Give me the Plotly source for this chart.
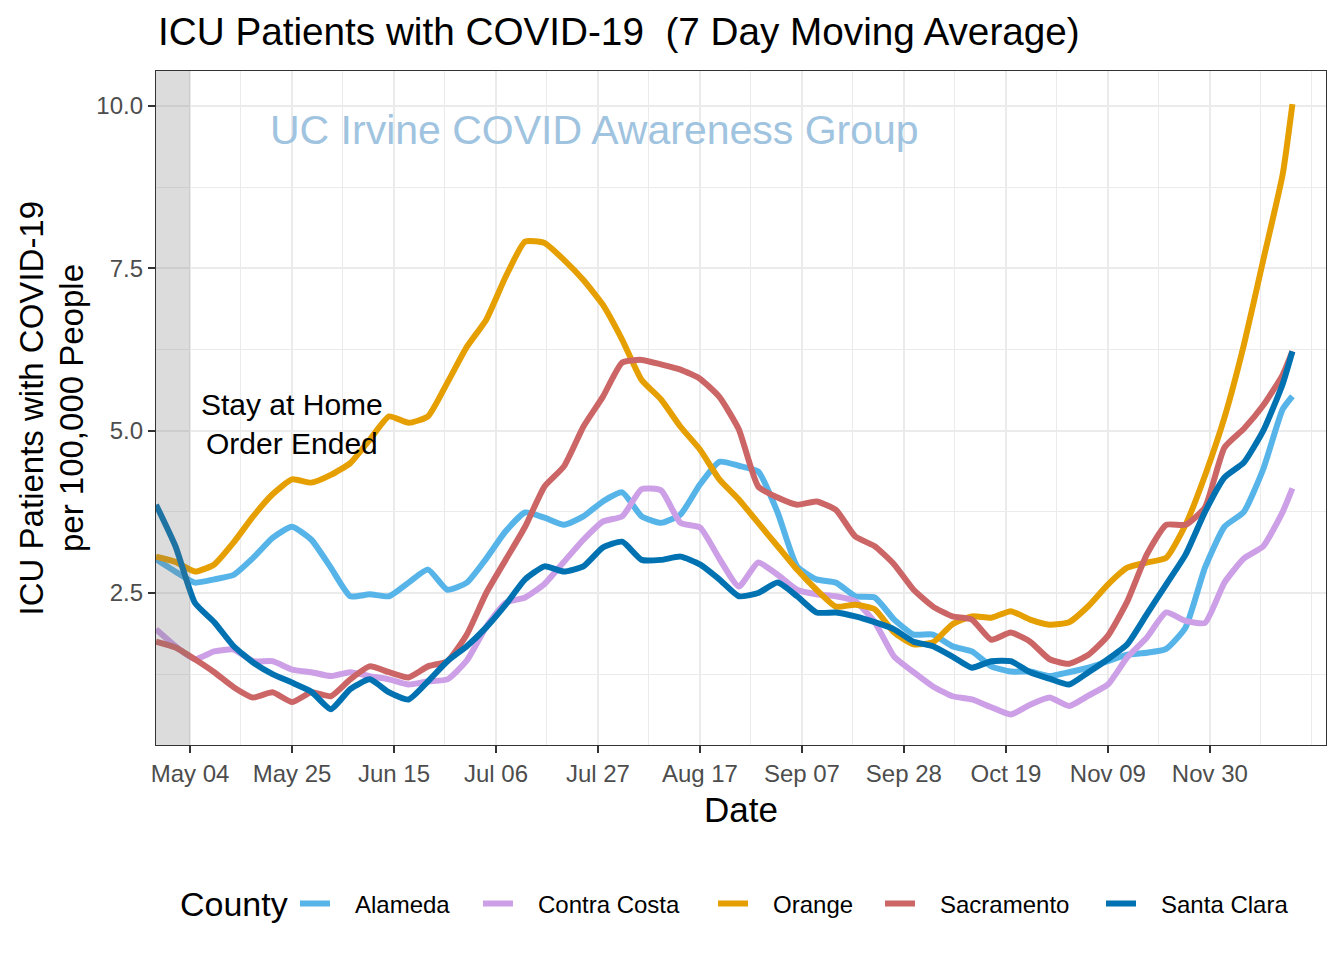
import plotly.graph_objects as go

dates = ["2020-04-27", "2020-05-01", "2020-05-05", "2020-05-09", "2020-05-13", "2020-05-17",
         "2020-05-21", "2020-05-25", "2020-05-29", "2020-06-02", "2020-06-06", "2020-06-10",
         "2020-06-14", "2020-06-18", "2020-06-22", "2020-06-26", "2020-06-30", "2020-07-04",
         "2020-07-08", "2020-07-12", "2020-07-16", "2020-07-20", "2020-07-24", "2020-07-28",
         "2020-08-01", "2020-08-05", "2020-08-09", "2020-08-13", "2020-08-17", "2020-08-21",
         "2020-08-25", "2020-08-29", "2020-09-02", "2020-09-06", "2020-09-10", "2020-09-14",
         "2020-09-18", "2020-09-22", "2020-09-26", "2020-09-30", "2020-10-04", "2020-10-08",
         "2020-10-12", "2020-10-16", "2020-10-20", "2020-10-24", "2020-10-28", "2020-11-01",
         "2020-11-05", "2020-11-09", "2020-11-13", "2020-11-17", "2020-11-21", "2020-11-25",
         "2020-11-29", "2020-12-03", "2020-12-07", "2020-12-11", "2020-12-15", "2020-12-17"]

alameda = [3.02, 2.83, 2.66, 2.71, 2.78, 3.04, 3.35, 3.52, 3.32, 2.89,
           2.45, 2.48, 2.45, 2.66, 2.86, 2.55, 2.66, 3.03, 3.45, 3.74,
           3.66, 3.55, 3.68, 3.91, 4.05, 3.68, 3.58, 3.71, 4.17, 4.52,
           4.46, 4.37, 3.74, 2.91, 2.71, 2.66, 2.45, 2.43, 2.09, 1.86,
           1.86, 1.68, 1.60, 1.37, 1.29, 1.29, 1.22, 1.28, 1.35, 1.45,
           1.55, 1.58, 1.64, 1.97, 2.89, 3.52, 3.75, 4.41, 5.33, 5.53]

contra_costa = [1.94, 1.68, 1.48, 1.60, 1.63, 1.45, 1.45, 1.32, 1.28, 1.22,
                1.28, 1.22, 1.17, 1.09, 1.14, 1.17, 1.46, 1.98, 2.35, 2.43,
                2.64, 2.98, 3.32, 3.60, 3.68, 4.10, 4.08, 3.58, 3.51, 3.03,
                2.60, 2.97, 2.78, 2.55, 2.48, 2.45, 2.37, 2.05, 1.52, 1.28,
                1.06, 0.91, 0.86, 0.74, 0.63, 0.78, 0.89, 0.76, 0.92, 1.09,
                1.51, 1.81, 2.20, 2.07, 2.04, 2.66, 3.03, 3.22, 3.75, 4.11]

orange = [3.06, 2.98, 2.83, 2.94, 3.28, 3.68, 4.02, 4.25, 4.20, 4.32,
          4.50, 4.86, 5.22, 5.12, 5.22, 5.74, 6.29, 6.71, 7.37, 7.91,
          7.89, 7.63, 7.32, 6.94, 6.40, 5.78, 5.48, 5.06, 4.71, 4.25,
          3.94, 3.58, 3.22, 2.86, 2.55, 2.29, 2.32, 2.25, 1.89, 1.71,
          1.74, 2.02, 2.14, 2.12, 2.22, 2.09, 2.01, 2.05, 2.30, 2.63,
          2.89, 2.97, 3.04, 3.55, 4.31, 5.20, 6.32, 7.63, 8.95, 10.03]

sacramento = [1.75, 1.66, 1.48, 1.28, 1.05, 0.89, 0.97, 0.82, 0.97, 0.91,
              1.17, 1.37, 1.28, 1.20, 1.37, 1.45, 1.86, 2.50, 3.01, 3.52,
              4.14, 4.45, 5.06, 5.52, 6.05, 6.09, 6.02, 5.94, 5.80, 5.52,
              5.02, 4.14, 3.97, 3.86, 3.91, 3.78, 3.37, 3.22, 2.94, 2.55,
              2.29, 2.14, 2.09, 1.78, 1.89, 1.75, 1.48, 1.41, 1.55, 1.84,
              2.37, 3.09, 3.55, 3.55, 3.82, 4.74, 5.03, 5.39, 5.86, 6.22]

santa_clara = [3.86, 3.22, 2.35, 2.05, 1.68, 1.43, 1.25, 1.12, 0.98, 0.71,
               1.02, 1.17, 0.97, 0.86, 1.14, 1.45, 1.68, 1.97, 2.32, 2.71,
               2.91, 2.83, 2.91, 3.20, 3.29, 3.01, 3.01, 3.06, 2.94, 2.71,
               2.45, 2.50, 2.66, 2.45, 2.20, 2.20, 2.14, 2.05, 1.94, 1.75,
               1.68, 1.52, 1.35, 1.45, 1.45, 1.28, 1.18, 1.09, 1.28, 1.48,
               1.71, 2.17, 2.63, 3.09, 3.75, 4.28, 4.51, 5.00, 5.72, 6.22]

counties = ["Alameda", "Contra Costa", "Orange", "Sacramento", "Santa Clara"]
series = [alameda, contra_costa, orange, sacramento, santa_clara]
colors = ["#56B4E9", "#CC9FE6", "#E69F00", "#CC6666", "#0072B2"]

x_tick_vals = ["2020-05-04", "2020-05-25", "2020-06-15", "2020-07-06", "2020-07-27", "2020-08-17",
               "2020-09-07", "2020-09-28", "2020-10-19", "2020-11-09", "2020-11-30"]
x_tick_text = ["May 04", "May 25", "Jun 15", "Jul 06", "Jul 27", "Aug 17",
               "Sep 07", "Sep 28", "Oct 19", "Nov 09", "Nov 30"]
x_minor_vals = ["2020-05-14 12:00", "2020-06-04 12:00", "2020-06-25 12:00", "2020-07-16 12:00",
                "2020-08-06 12:00", "2020-08-27 12:00", "2020-09-17 12:00", "2020-10-08 12:00",
                "2020-10-29 12:00", "2020-11-19 12:00", "2020-12-10 12:00", "2020-12-21"]
y_tick_vals = [2.5, 5.0, 7.5, 10.0]
y_tick_text = ["2.5", "5.0", "7.5", "10.0"]
y_minor_vals = [1.25, 3.75, 6.25, 8.75]

FONT = "Liberation Sans, Arial, sans-serif"

# legend positions (paper x) for each county entry
legend_x = [0.1188, 0.2752, 0.4761, 0.6188, 0.8077]
legend_ids = ["legend", "legend2", "legend3", "legend4", "legend5"]

fig = go.Figure()
for name, vals, col, lid in zip(counties, series, colors, legend_ids):
    fig.add_trace(go.Scatter(x=dates, y=vals, mode="lines", name="\u00a0\u00a0\u00a0" + name,
                             legend=lid,
                             line=dict(color=col, width=6, shape="spline", smoothing=0.5)))

fig.add_shape(type="rect", xref="x", yref="paper", x0="2020-04-20", x1="2020-05-04",
              y0=0, y1=1, fillcolor="rgba(120,120,120,0.26)", line=dict(width=0), layer="above")

grid = "#EBEBEB"
fig.update_xaxes(type="date", range=["2020-04-27", "2020-12-23 22:00"],
                 tickmode="array", tickvals=x_tick_vals, ticktext=x_tick_text,
                 showgrid=True, gridcolor=grid, gridwidth=2.2,
                 minor=dict(tickmode="array", tickvals=x_minor_vals, showgrid=True,
                            gridcolor=grid, gridwidth=1.1, ticklen=0),
                 ticks="outside", ticklen=7, tickwidth=1.5, tickcolor="#333333",
                 tickfont=dict(size=24, color="#4D4D4D", family=FONT),
                 showline=True, mirror=True, linecolor="#333333", linewidth=1.3,
                 zeroline=False)
fig.update_yaxes(range=[0.159, 10.539],
                 tickmode="array", tickvals=y_tick_vals, ticktext=y_tick_text,
                 showgrid=True, gridcolor=grid, gridwidth=2.2,
                 minor=dict(tickmode="array", tickvals=y_minor_vals, showgrid=True,
                            gridcolor=grid, gridwidth=1.1, ticklen=0),
                 ticks="outside", ticklen=7, tickwidth=1.5, tickcolor="#333333",
                 tickfont=dict(size=24, color="#4D4D4D", family=FONT),
                 showline=True, mirror=True, linecolor="#333333", linewidth=1.3,
                 zeroline=False)

annotations = [
    dict(text="ICU Patients with COVID-19  (7 Day Moving Average)", xref="paper", yref="paper",
         x=0.0, y=1.0579, xanchor="left", yanchor="middle", showarrow=False,
         font=dict(size=38.7, color="black", family=FONT)),
    dict(text="UC Irvine COVID Awareness Group", xref="paper", yref="paper",
         x=0.375, y=0.9125, xanchor="center", yanchor="middle", showarrow=False,
         font=dict(size=41, color="#A0C4DF", family=FONT)),
    dict(text="Stay at Home<br>Order Ended", xref="paper", yref="paper",
         x=0.1162, y=0.476, xanchor="center", yanchor="middle", showarrow=False,
         font=dict(size=30, color="black", family=FONT)),
    dict(text="Date", xref="paper", yref="paper",
         x=0.5, y=-0.0964, xanchor="center", yanchor="middle", showarrow=False,
         font=dict(size=35, color="black", family=FONT)),
    dict(text="ICU Patients with COVID-19", xref="paper", yref="paper",
         x=-0.1065, y=0.5, xanchor="center", yanchor="middle", showarrow=False, textangle=-90,
         font=dict(size=33, color="black", family=FONT)),
    dict(text="per 100,000 People", xref="paper", yref="paper",
         x=-0.0726, y=0.5, xanchor="center", yanchor="middle", showarrow=False, textangle=-90,
         font=dict(size=33, color="black", family=FONT)),
    dict(text="County", xref="paper", yref="paper",
         x=0.0188, y=-0.2359, xanchor="left", yanchor="middle", showarrow=False,
         font=dict(size=34, color="black", family=FONT)),
]

legend_common = dict(orientation="h", xanchor="left", y=-0.2359, yanchor="middle",
                     font=dict(size=24, color="black", family=FONT),
                     bgcolor="rgba(0,0,0,0)", borderwidth=0)
layout_legends = {lid: dict(x=lx, **legend_common) for lid, lx in zip(legend_ids, legend_x)}

fig.update_layout(
    width=1344, height=960,
    margin=dict(l=148, r=26, t=63, b=223),
    paper_bgcolor="white", plot_bgcolor="white",
    font=dict(family=FONT, color="black"),
    annotations=annotations,
    showlegend=True,
    **layout_legends,
)

fig.write_html("out.html")
